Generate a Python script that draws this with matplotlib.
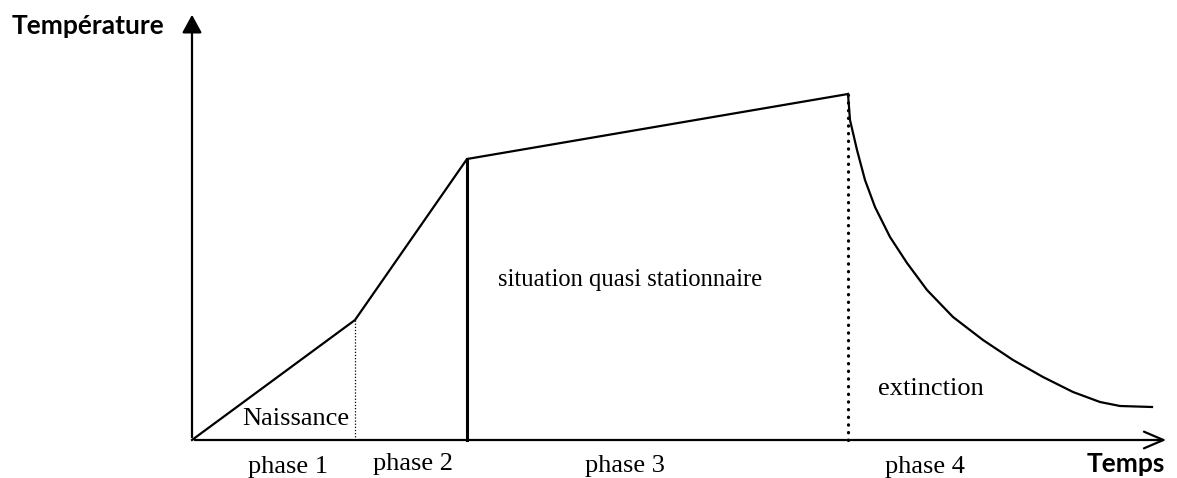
import matplotlib.pyplot as plt

# points de la courbe (temps, température), origine au coin des axes
t_rise = [0, 163, 275, 656]
T_rise = [0, 120, 281, 346]
t_decay = [656, 658, 665, 673, 683, 698, 715, 735, 761, 791, 821, 851, 881, 908, 928, 960]
T_decay = [346, 320, 290, 260, 233, 203, 177, 150, 123, 100, 80, 63, 48, 38, 34, 33]

phase_labels = ["phase 1", "phase 2", "phase 3", "phase 4"]
phase_x = [56, 181, 393, 693]
phase_y = [-33, -30, -32, -33]

fig = plt.figure(figsize=(11.77, 4.78), dpi=100)
ax = fig.add_axes([0, 0, 1, 1])
ax.set_xlim(-192, 985)
ax.set_ylim(-38, 440)
ax.axis("off")

# axes avec flèches
ax.annotate("", xy=(0, 428), xytext=(0, 0),
            arrowprops=dict(arrowstyle="-|>,head_length=1.1,head_width=0.6", color="black", lw=1.6))
ax.annotate("", xy=(977, 0), xytext=(0, 0),
            arrowprops=dict(arrowstyle="->,head_length=1.4,head_width=0.6", color="black", lw=1.6))

ax.plot(t_rise, T_rise, color="black", lw=1.6, solid_joinstyle="miter")
ax.plot(t_decay, T_decay, color="black", lw=1.6)

# séparations des phases
ax.plot([163, 163], [0, 120], color="black", lw=0.9, linestyle=(0, (1, 1.5)))
ax.plot([275, 275], [0, 281], color="black", lw=2.2)
ax.plot([656, 656], [0, 346], color="black", lw=2.3, linestyle=(0, (0.1, 2.3)), dash_capstyle="round")

serif = "Liberation Serif"
ax.text(50, 15, "Naissance", family=serif, fontsize=19, ha="left", va="baseline")
ax.text(306, 154, "situation quasi stationnaire", family=serif, fontsize=17.7, ha="left", va="baseline")
ax.text(686, 45, "extinction", family=serif, fontsize=19, ha="left", va="baseline")
for lab, x, y in zip(phase_labels, phase_x, phase_y):
    ax.text(x, y, lab, family=serif, fontsize=19, ha="left", va="baseline")

ax.text(-180, 406, "Température", family="Lato", fontweight="bold", fontsize=19, ha="left", va="baseline")
ax.text(895, -32, "Temps", family="Lato", fontweight="bold", fontsize=19, ha="left", va="baseline")

fig.savefig("out.png", dpi=100)
